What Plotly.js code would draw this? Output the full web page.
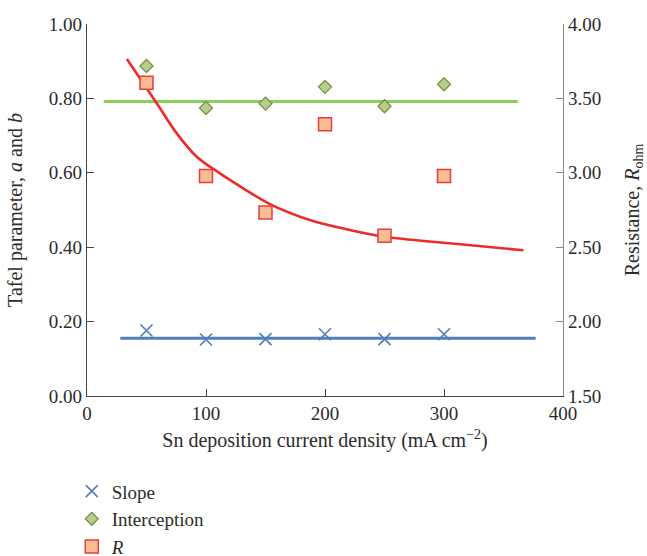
<!DOCTYPE html>
<html>
<head>
<meta charset="utf-8">
<script src="https://cdn.plot.ly/plotly-3.0.1.min.js"></script>
<style>html,body{margin:0;padding:0;background:#fff}#chart{width:647px;height:556px}</style>
</head>
<body>
<div id="chart"></div>
<script>
// Data
const currentDensity = [50, 100, 150, 200, 250, 300];
const slopeValues = [0.176, 0.152, 0.153, 0.166, 0.153, 0.166];
const interceptionValues = [0.887, 0.774, 0.786, 0.831, 0.779, 0.838];
const resistanceValues = [3.606, 2.979, 2.734, 3.326, 2.577, 2.979];

const slopeFitX = [28, 377];
const slopeFitY = [0.155, 0.155];
const interceptFitX = [14, 362];
const interceptFitY = [0.792, 0.792];
const resistanceFitX = [33.5, 58.6, 75.4, 92.2, 111.7, 131.3, 153.7, 187.2, 220.8, 250.2, 304.7, 366.8];
const resistanceFitY = [3.765, 3.467, 3.265, 3.108, 2.996, 2.896, 2.790, 2.683, 2.616, 2.570, 2.526, 2.479];

const leftTicks = [0, 0.2, 0.4, 0.6, 0.8, 1.0];
const rightTicks = [1.5, 2.0, 2.5, 3.0, 3.5, 4.0];
const xTicks = [0, 100, 200, 300, 400];

const FONT = 'Liberation Serif, Times New Roman, serif';

const traces = [
  {x: slopeFitX, y: slopeFitY, mode: 'lines', line: {color: '#4f7fbf', width: 3}, showlegend: false, hoverinfo: 'skip'},
  {x: interceptFitX, y: interceptFitY, mode: 'lines', line: {color: '#8ccf5a', width: 3}, showlegend: false, hoverinfo: 'skip'},
  {x: resistanceFitX, y: resistanceFitY, yaxis: 'y2', mode: 'lines', line: {color: '#ee2b2b', width: 2.6, shape: 'spline'}, showlegend: false, hoverinfo: 'skip'},
  {x: currentDensity, y: slopeValues, name: 'Slope', mode: 'markers', legendgroup: 'a',
   marker: {symbol: 'x-thin-open', size: 12, color: '#4f7fbf', line: {color: '#4f7fbf', width: 1.6}}},
  {x: currentDensity, y: interceptionValues, name: 'Interception', mode: 'markers', legendgroup: 'b',
   marker: {symbol: 'diamond', size: 10, color: '#b6cf90', line: {color: '#78923f', width: 1.3}}},
  {x: currentDensity, y: resistanceValues, name: '<i>R</i>', mode: 'markers', yaxis: 'y2', legendgroup: 'c',
   marker: {symbol: 'square', size: 13, color: '#f7be96', line: {color: '#ef3a3a', width: 1.5}}}
];

const layout = {
  width: 647, height: 556,
  margin: {l: 87, r: 84, t: 24, b: 160, autoexpand: false},
  paper_bgcolor: '#fff', plot_bgcolor: '#fff',
  font: {family: FONT, size: 19, color: '#2b2b2b'},
  showlegend: true,
  legend: {x: -0.032, xanchor: 'left', y: -0.205, yanchor: 'top', traceorder: 'grouped', tracegroupgap: 0,
           font: {family: FONT, size: 19, color: '#2b2b2b'}, bgcolor: 'rgba(0,0,0,0)'},
  xaxis: {
    range: [0, 400], tickvals: xTicks, ticks: 'inside', ticklen: 7, tickcolor: '#444',
    showline: true, linecolor: '#444', linewidth: 1.3, showgrid: false, zeroline: false,
    tickfont: {size: 19},
    title: {text: 'Sn deposition current density (mA cm<sup>−2</sup>)', font: {size: 20}, standoff: 10}
  },
  yaxis: {
    range: [0, 1.0], tickvals: leftTicks, tickformat: '.2f', ticks: 'inside', ticklen: 7, tickcolor: '#444',
    showline: true, linecolor: '#444', linewidth: 1.3, showgrid: false, zeroline: false,
    tickfont: {size: 19},
    title: {text: 'Tafel parameter, <i>a</i> and <i>b</i>', font: {size: 20}, standoff: 20}
  },
  yaxis2: {
    overlaying: 'y', side: 'right', range: [1.5, 4.0], tickvals: rightTicks, tickformat: '.2f',
    ticks: 'inside', ticklen: 7, tickcolor: '#888',
    showline: true, linecolor: '#888', linewidth: 1.3, showgrid: false, zeroline: false,
    tickfont: {size: 19},
    title: {text: 'Resistance, <i>R</i><sub>ohm</sub>', font: {size: 20}, standoff: 24}
  }
};

Plotly.newPlot('chart', traces, layout, {displayModeBar: false, staticPlot: true});
</script>
</body>
</html>
